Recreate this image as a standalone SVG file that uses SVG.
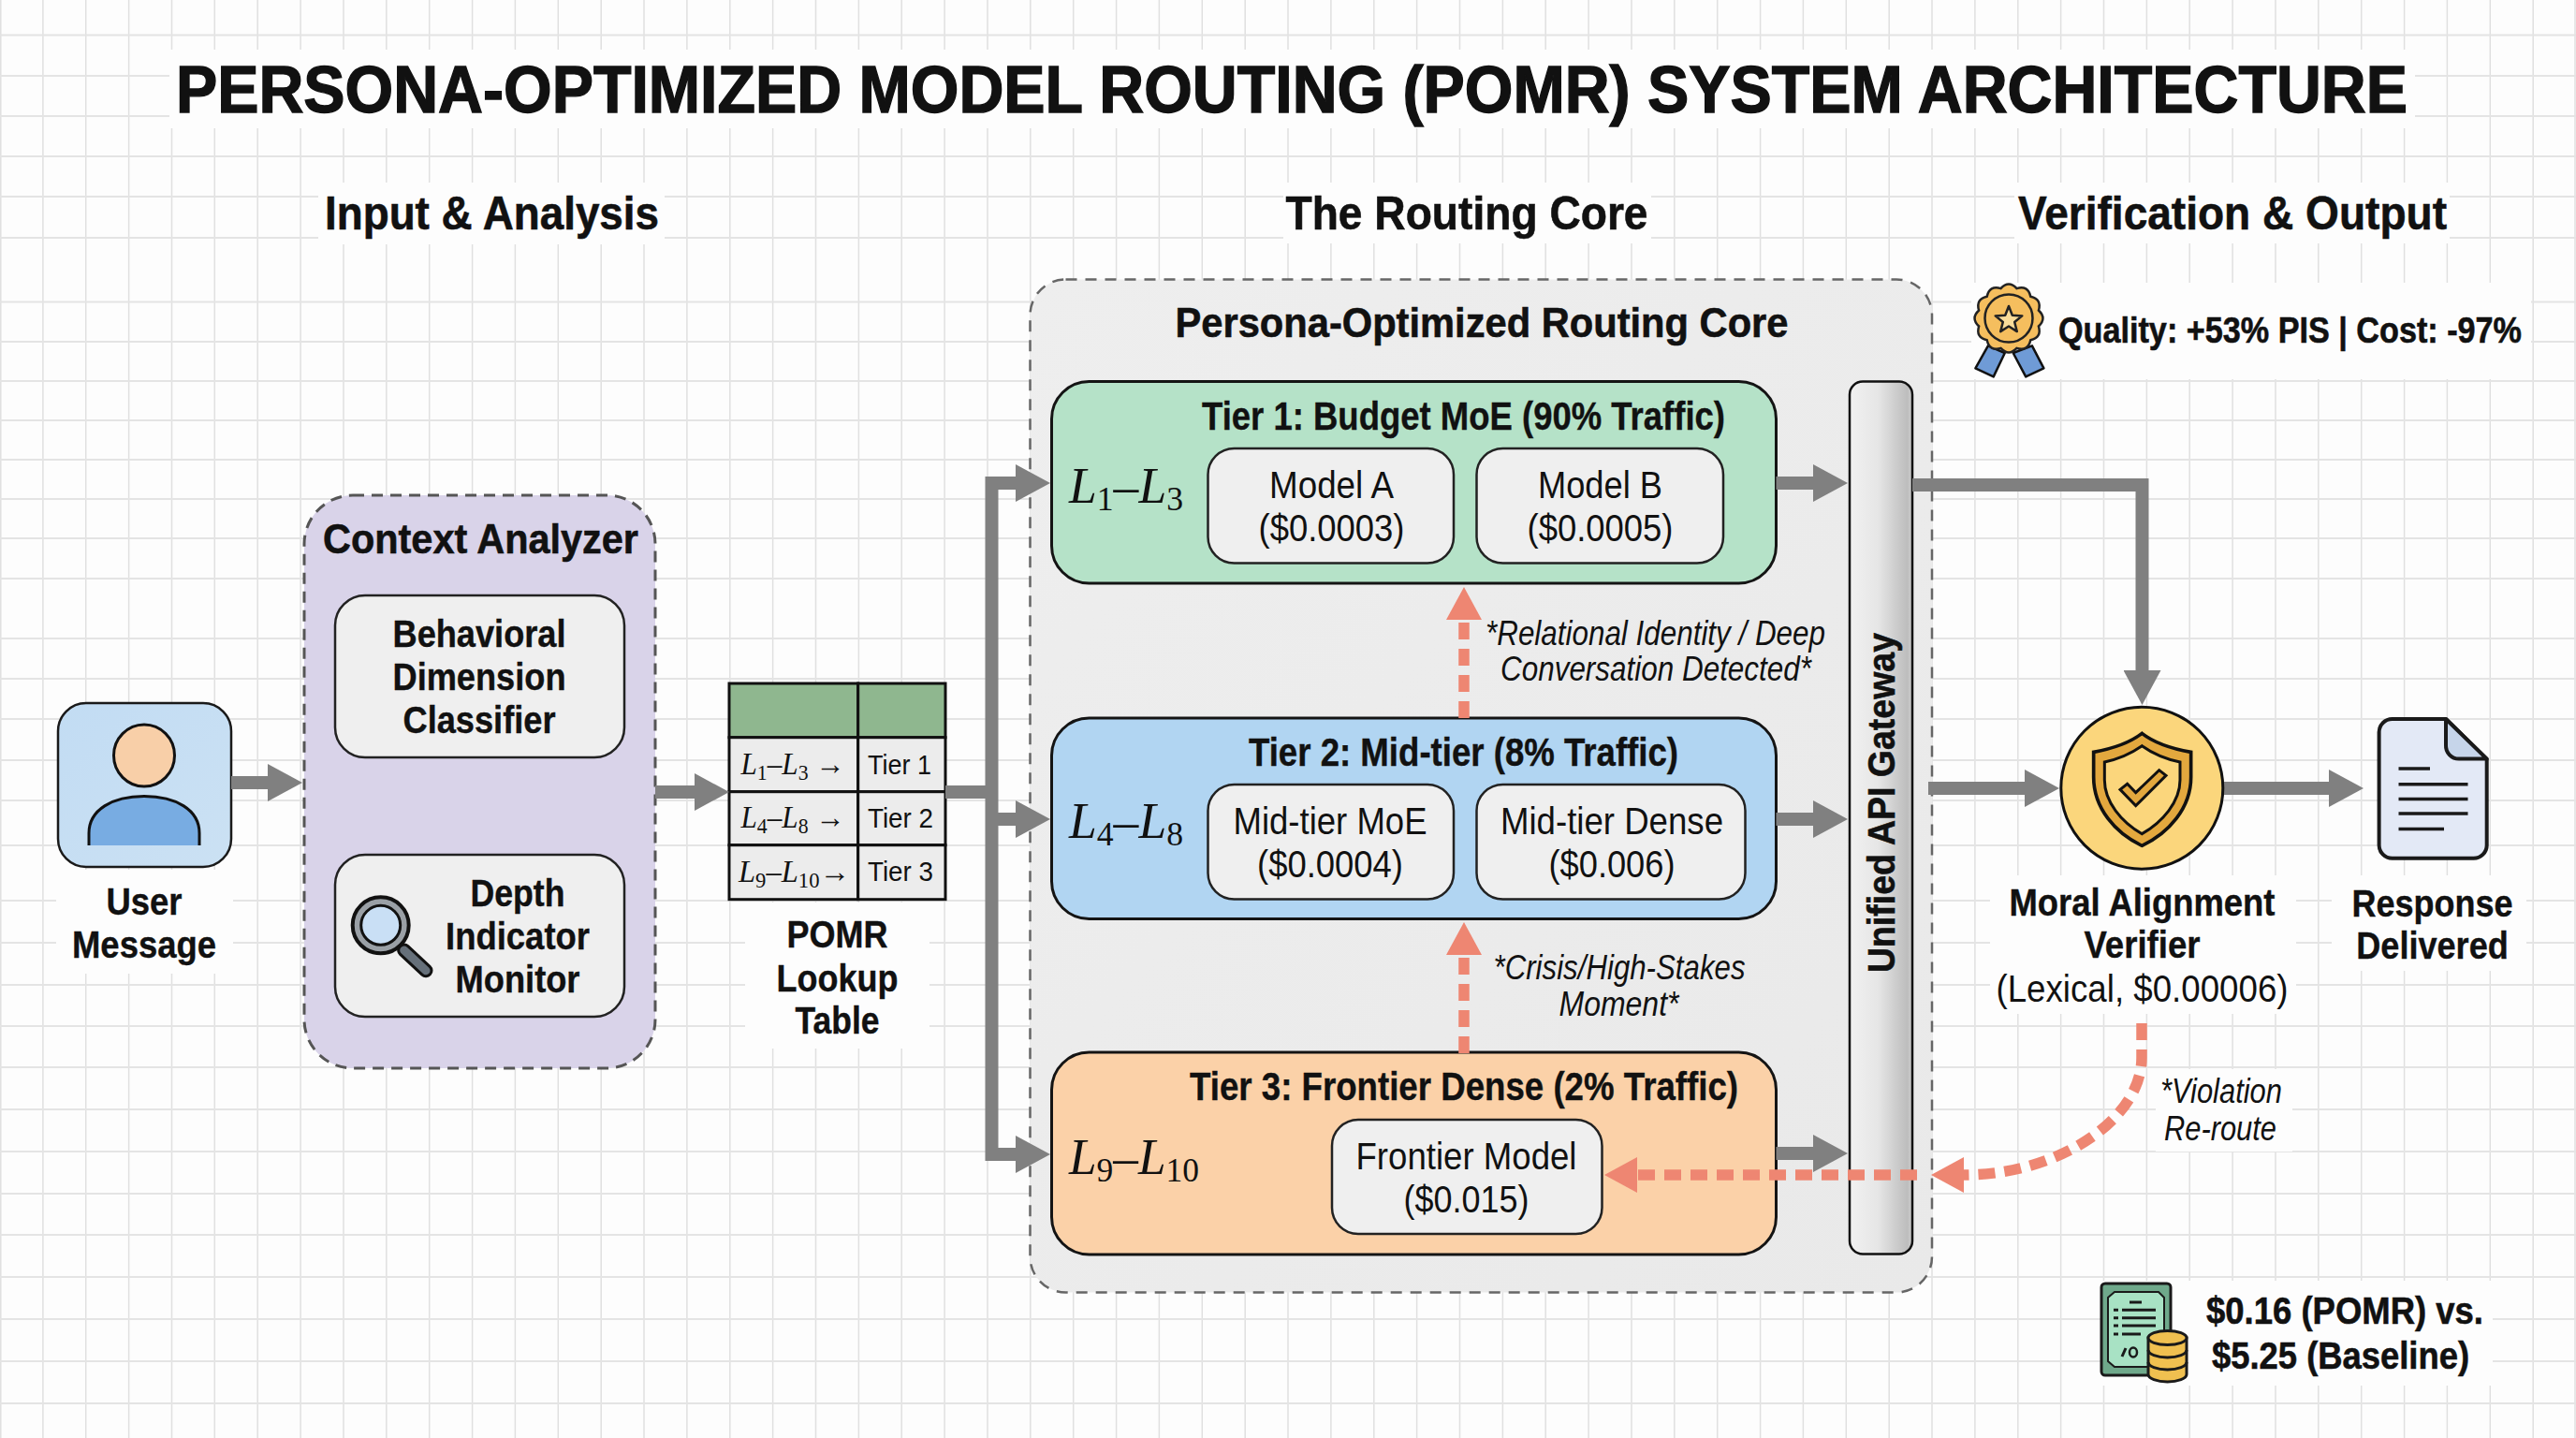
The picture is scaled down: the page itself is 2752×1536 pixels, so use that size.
<svg xmlns="http://www.w3.org/2000/svg" width="2752" height="1536" viewBox="0 0 2752 1536">
<style>
text{fill:#111;font-family:"Liberation Sans",Arial,sans-serif;text-anchor:middle}
.b{font-weight:700;stroke:#111;stroke-width:.6}
.h{font-weight:700;font-size:50px;stroke:#111;stroke-width:.6}
.n{font-weight:700;font-size:41px;stroke:#111;stroke-width:.4}
.t{font-weight:700;font-size:43px;stroke:#111;stroke-width:.4}
.r{font-size:40px}
.i{font-style:italic;font-size:37px}
.c{font-size:30px}
.m{font-family:"Liberation Serif","Times New Roman",serif;text-anchor:start}
.m tspan.l{font-style:italic}
.box{fill:#efefef;stroke:#222;stroke-width:2.5}
.tier{stroke:#141414;stroke-width:3}
.cell{fill:#ececec;stroke:#111;stroke-width:3}
.hd{fill:#8fb78f;stroke:#111;stroke-width:3}
.g{fill:none;stroke:#808080;stroke-width:14}
.d{fill:none;stroke:#ee8672;stroke-width:11.5;stroke-dasharray:18 10}
.halo{fill:#fdfdfd}
.ln{fill:none;stroke:#1a1a1a;stroke-width:3.5}
</style>
<defs>
<marker id="ag" markerUnits="userSpaceOnUse" markerWidth="38" markerHeight="40" refX="0" refY="20" orient="auto"><path d="M0 0L37 20L0 40Z" fill="#808080"/></marker>
<marker id="ar" markerUnits="userSpaceOnUse" markerWidth="36" markerHeight="38" refX="0" refY="19" orient="auto"><path d="M0 0L35 19L0 38Z" fill="#ee8672"/></marker>
<linearGradient id="gUser" x1="0" y1="0" x2="1" y2="1"><stop offset="0" stop-color="#c2dcf3"/><stop offset="1" stop-color="#cbe1f3"/></linearGradient>
<linearGradient id="gGate" x1="0" y1="0" x2="1" y2="0"><stop offset="0" stop-color="#f1f1f1"/><stop offset=".45" stop-color="#e6e6e6"/><stop offset=".92" stop-color="#bdbdbd"/><stop offset="1" stop-color="#cfcfcf"/></linearGradient>
<linearGradient id="gCore" x1="0" y1="0" x2="1" y2="1"><stop offset="0" stop-color="#eeeeee"/><stop offset="1" stop-color="#e9e9e9"/></linearGradient>
</defs>
<g id="background">
<rect width="2752" height="1536" fill="#fdfdfd"/>
<path fill="none" stroke="#e0e0e0" stroke-width="1.5" d="M0.8 0V1536M45.9 0V1536M91.7 0V1536M137.6 0V1536M183.5 0V1536M229.3 0V1536M275.2 0V1536M321.1 0V1536M367 0V1536M412.8 0V1536M458.7 0V1536M504.6 0V1536M550.4 0V1536M596.3 0V1536M642.2 0V1536M688 0V1536M733.9 0V1536M779.8 0V1536M825.6 0V1536M871.5 0V1536M917.4 0V1536M963.2 0V1536M1009.1 0V1536M1055 0V1536M1100.8 0V1536M1146.7 0V1536M1192.6 0V1536M1238.4 0V1536M1284.3 0V1536M1330.2 0V1536M1376 0V1536M1421.9 0V1536M1467.8 0V1536M1513.6 0V1536M1559.5 0V1536M1605.4 0V1536M1651.2 0V1536M1697.1 0V1536M1743 0V1536M1788.8 0V1536M1834.7 0V1536M1880.6 0V1536M1926.4 0V1536M1972.3 0V1536M2018.2 0V1536M2064 0V1536M2109.9 0V1536M2155.8 0V1536M2201.6 0V1536M2247.5 0V1536M2293.4 0V1536M2339.2 0V1536M2385.1 0V1536M2431 0V1536M2476.8 0V1536M2522.7 0V1536M2568.6 0V1536M2614.4 0V1536M2660.3 0V1536M2706.2 0V1536M2751 0V1536"/>
<path fill="none" stroke="#e4e4e4" stroke-width="2" d="M0 37.5H2752M0 81H2752M0 124H2752M0 167H2752M0 210H2752M0 254H2752M0 322.6H2752M0 365H2752M0 407H2752M0 449H2752M0 491H2752M0 533H2752M0 575H2752M0 618H2752M0 682H2752M0 725H2752M0 768H2752M0 812H2752M0 855H2752M0 903H2752M0 962H2752M0 1007H2752M0 1052H2752M0 1096H2752M0 1140H2752M0 1185H2752M0 1230H2752M0 1275H2752M0 1319H2752M0 1364H2752M0 1409H2752M0 1454H2752M0 1499H2752"/>
<rect class="halo" x="181" y="53" width="2399" height="84"/>
<rect class="halo" x="340" y="195" width="370" height="66"/>
<rect class="halo" x="1371" y="195" width="393" height="65"/>
<rect class="halo" x="2152" y="195" width="465" height="65"/>
<rect class="halo" x="2106" y="302" width="598" height="103"/>
<rect class="halo" x="60" y="929" width="189" height="111"/>
<rect class="halo" x="796" y="964" width="197" height="156"/>
<rect class="halo" x="2126" y="935" width="327" height="148"/>
<rect class="halo" x="2491" y="935" width="208" height="102"/>
<rect class="halo" x="2303" y="1142" width="146" height="88"/>
<rect class="halo" x="2244" y="1368" width="419" height="112"/>
</g>
<g id="title"><text class="b" x="1380" y="120" font-size="71" style="stroke-width:1.4" textLength="2384" lengthAdjust="spacingAndGlyphs">PERSONA-OPTIMIZED MODEL ROUTING (POMR) SYSTEM ARCHITECTURE</text></g>
<g id="section-headings">
<text class="h" x="525.5" y="245" textLength="357" lengthAdjust="spacingAndGlyphs">Input &amp; Analysis</text>
<text class="h" x="1567" y="245" textLength="387" lengthAdjust="spacingAndGlyphs">The Routing Core</text>
<text class="h" x="2385" y="245" textLength="458" lengthAdjust="spacingAndGlyphs">Verification &amp; Output</text>
</g>
<g id="user-message">
<rect x="62" y="751" width="185" height="175" rx="30" fill="url(#gUser)" stroke="#1a1a1a" stroke-width="2.5"/>
<path d="M95 903V890C95 865 120 850.5 154 850.5C188 850.5 213 865 213 890V903Z" fill="#78ace2"/>
<path d="M95 903V890C95 865 120 850.5 154 850.5C188 850.5 213 865 213 890V903" fill="none" stroke="#111" stroke-width="3"/>
<ellipse cx="154" cy="807" rx="32.5" ry="33" fill="#f8cfa8" stroke="#111" stroke-width="3"/>
<text class="n" x="154" y="977" textLength="81" lengthAdjust="spacingAndGlyphs">User</text>
<text class="n" x="154" y="1022.5" textLength="154" lengthAdjust="spacingAndGlyphs">Message</text>
</g>
<g id="context-analyzer">
<rect x="325" y="529" width="375" height="612" rx="52" fill="#d9d3e9" stroke="#555" stroke-width="3" stroke-dasharray="12 8"/>
<text class="b" x="513.5" y="590.5" font-size="45" textLength="337" lengthAdjust="spacingAndGlyphs">Context Analyzer</text>
</g>
<g id="behavioral-classifier">
<rect class="box" x="358" y="636" width="309" height="173" rx="32"/>
<text class="n" x="512" y="691" textLength="185" lengthAdjust="spacingAndGlyphs">Behavioral</text>
<text class="n" x="512" y="737" textLength="185" lengthAdjust="spacingAndGlyphs">Dimension</text>
<text class="n" x="512" y="783" textLength="163" lengthAdjust="spacingAndGlyphs">Classifier</text>
</g>
<g id="depth-monitor">
<rect class="box" x="358" y="913" width="309" height="173" rx="32"/>
<path d="M431.7 1015L455 1036.7" stroke="#111" stroke-width="15" stroke-linecap="round" fill="none"/>
<path d="M431.7 1015L455 1036.7" stroke="#66707a" stroke-width="9" stroke-linecap="round" fill="none"/>
<circle cx="406.7" cy="988.3" r="30" fill="#9aa0a6" stroke="#111" stroke-width="4"/>
<circle cx="406.7" cy="988.3" r="21" fill="#c9dff5" stroke="#111" stroke-width="3"/>
<text class="n" x="553" y="967.5" textLength="101" lengthAdjust="spacingAndGlyphs">Depth</text>
<text class="n" x="553" y="1013.5" textLength="154" lengthAdjust="spacingAndGlyphs">Indicator</text>
<text class="n" x="553" y="1059.5" textLength="133" lengthAdjust="spacingAndGlyphs">Monitor</text>
</g>
<g id="lookup-table">
<rect class="hd" x="779" y="730" width="137.7" height="57.7"/>
<rect class="hd" x="916.7" y="730" width="93.3" height="57.7"/>
<rect class="cell" x="779" y="787.7" width="137.7" height="58"/>
<rect class="cell" x="916.7" y="787.7" width="93.3" height="58"/>
<rect class="cell" x="779" y="845.7" width="137.7" height="57"/>
<rect class="cell" x="916.7" y="845.7" width="93.3" height="57"/>
<rect class="cell" x="779" y="902.7" width="137.7" height="58"/>
<rect class="cell" x="916.7" y="902.7" width="93.3" height="58"/>
<text class="m" x="791.5" y="826.7" font-size="33" textLength="111" lengthAdjust="spacingAndGlyphs"><tspan class="l">L</tspan><tspan dy="6" font-size="23">1</tspan><tspan dy="-6">–</tspan><tspan class="l">L</tspan><tspan dy="6" font-size="23">3</tspan><tspan dy="-6"> →</tspan></text>
<text class="m" x="791.5" y="884" font-size="33" textLength="111" lengthAdjust="spacingAndGlyphs"><tspan class="l">L</tspan><tspan dy="6" font-size="23">4</tspan><tspan dy="-6">–</tspan><tspan class="l">L</tspan><tspan dy="6" font-size="23">8</tspan><tspan dy="-6"> →</tspan></text>
<text class="m" x="789" y="941.5" font-size="33" textLength="119" lengthAdjust="spacingAndGlyphs"><tspan class="l">L</tspan><tspan dy="6" font-size="23">9</tspan><tspan dy="-6">–</tspan><tspan class="l">L</tspan><tspan dy="6" font-size="23">10</tspan><tspan dy="-6">→</tspan></text>
<text class="c" x="961" y="826.7" textLength="68" lengthAdjust="spacingAndGlyphs">Tier 1</text>
<text class="c" x="962" y="884" textLength="70" lengthAdjust="spacingAndGlyphs">Tier 2</text>
<text class="c" x="962" y="941" textLength="70" lengthAdjust="spacingAndGlyphs">Tier 3</text>
<text class="n" x="894.5" y="1011.5" textLength="108" lengthAdjust="spacingAndGlyphs">POMR</text>
<text class="n" x="894.5" y="1058.5" textLength="130" lengthAdjust="spacingAndGlyphs">Lookup</text>
<text class="n" x="894.5" y="1104" textLength="90" lengthAdjust="spacingAndGlyphs">Table</text>
</g>
<g id="routing-core">
<rect x="1100.5" y="298.5" width="963.5" height="1082" rx="38" fill="url(#gCore)" stroke="#666" stroke-width="2.5" stroke-dasharray="12 9"/>
<text class="b" x="1583" y="359.5" font-size="45" textLength="655" lengthAdjust="spacingAndGlyphs">Persona-Optimized Routing Core</text>
</g>
<g id="tier-1">
<rect class="tier" x="1123.5" y="407.5" width="774" height="215.5" rx="40" fill="#b5e2c8"/>
<text class="t" x="1563.5" y="458.5" textLength="559" lengthAdjust="spacingAndGlyphs">Tier 1: Budget MoE (90% Traffic)</text>
<text class="m" x="1142" y="537" font-size="54" textLength="122" lengthAdjust="spacingAndGlyphs"><tspan class="l">L</tspan><tspan dy="8" font-size="36">1</tspan><tspan dy="-8">–</tspan><tspan class="l">L</tspan><tspan dy="8" font-size="36">3</tspan></text>
</g>
<g id="model-a">
<rect class="box" x="1290.5" y="479" width="262.5" height="122.5" rx="28"/>
<text class="r" x="1422.5" y="531.5" textLength="133" lengthAdjust="spacingAndGlyphs">Model A</text>
<text class="r" x="1422.5" y="577.5" textLength="156" lengthAdjust="spacingAndGlyphs">($0.0003)</text>
</g>
<g id="model-b">
<rect class="box" x="1577.5" y="479" width="263.5" height="122.5" rx="28"/>
<text class="r" x="1709.5" y="531.5" textLength="133" lengthAdjust="spacingAndGlyphs">Model B</text>
<text class="r" x="1709.5" y="577.5" textLength="156" lengthAdjust="spacingAndGlyphs">($0.0005)</text>
</g>
<g id="tier-2">
<rect class="tier" x="1123.5" y="767" width="774" height="214.5" rx="40" fill="#b1d5f2"/>
<text class="t" x="1563.5" y="817.5" textLength="459" lengthAdjust="spacingAndGlyphs">Tier 2: Mid-tier (8% Traffic)</text>
<text class="m" x="1142" y="895" font-size="54" textLength="122" lengthAdjust="spacingAndGlyphs"><tspan class="l">L</tspan><tspan dy="8" font-size="36">4</tspan><tspan dy="-8">–</tspan><tspan class="l">L</tspan><tspan dy="8" font-size="36">8</tspan></text>
</g>
<g id="mid-tier-moe">
<rect class="box" x="1290.5" y="838" width="262.5" height="122.5" rx="28"/>
<text class="r" x="1421" y="891" textLength="207" lengthAdjust="spacingAndGlyphs">Mid-tier MoE</text>
<text class="r" x="1421" y="937" textLength="156" lengthAdjust="spacingAndGlyphs">($0.0004)</text>
</g>
<g id="mid-tier-dense">
<rect class="box" x="1577.5" y="838" width="287" height="122.5" rx="28"/>
<text class="r" x="1722" y="891" textLength="238" lengthAdjust="spacingAndGlyphs">Mid-tier Dense</text>
<text class="r" x="1722" y="937" textLength="135" lengthAdjust="spacingAndGlyphs">($0.006)</text>
</g>
<g id="tier-3">
<rect class="tier" x="1123.5" y="1124" width="774" height="216" rx="40" fill="#fbd1a8"/>
<text class="t" x="1564" y="1175" textLength="586" lengthAdjust="spacingAndGlyphs">Tier 3: Frontier Dense (2% Traffic)</text>
<text class="m" x="1142" y="1254" font-size="54" textLength="139" lengthAdjust="spacingAndGlyphs"><tspan class="l">L</tspan><tspan dy="8" font-size="36">9</tspan><tspan dy="-8">–</tspan><tspan class="l">L</tspan><tspan dy="8" font-size="36">10</tspan></text>
</g>
<g id="frontier-model">
<rect class="box" x="1423" y="1196" width="288.5" height="122" rx="28"/>
<text class="r" x="1566.5" y="1248.5" textLength="236" lengthAdjust="spacingAndGlyphs">Frontier Model</text>
<text class="r" x="1566.5" y="1294.5" textLength="134" lengthAdjust="spacingAndGlyphs">($0.015)</text>
</g>
<g id="api-gateway">
<rect x="1976" y="407.5" width="67" height="932" rx="14" fill="url(#gGate)" stroke="#111" stroke-width="2.5"/>
<text class="b" transform="translate(2024 857.5) rotate(-90)" x="0" y="0" font-size="41" textLength="363" lengthAdjust="spacingAndGlyphs">Unified API Gateway</text>
</g>
<g id="connectors">
<path class="g" d="M247 836H286" marker-end="url(#ag)"/>
<path class="g" d="M700 846H742" marker-end="url(#ag)"/>
<path class="g" d="M1010 846H1059.5"/>
<path class="g" d="M1059.5 846V516H1085" marker-end="url(#ag)"/>
<path class="g" d="M1059.5 846V1233H1085" marker-end="url(#ag)"/>
<path class="g" d="M1059.5 875H1085" marker-end="url(#ag)"/>
<path class="g" d="M1897.5 516H1937" marker-end="url(#ag)"/>
<path class="g" d="M1897.5 875H1937" marker-end="url(#ag)"/>
<path class="g" d="M1897.5 1232H1937" marker-end="url(#ag)"/>
<path class="g" d="M2043 518H2288.5V716" marker-end="url(#ag)"/>
<path class="g" d="M2060 842H2163" marker-end="url(#ag)"/>
<path class="g" d="M2376 842H2488" marker-end="url(#ag)"/>
<path class="d" d="M1564 767V662" marker-end="url(#ar)"/>
<path class="d" d="M1564 1125V1020" marker-end="url(#ar)"/>
<path class="d" d="M2048 1255H1749" marker-end="url(#ar)"/>
<path class="d" d="M2288 1093V1130C2288 1195 2200 1255 2098 1255" marker-end="url(#ar)"/>
</g>
<g id="edge-labels">
<text class="i" x="1768.5" y="688.5" textLength="363" lengthAdjust="spacingAndGlyphs">*Relational Identity / Deep</text>
<text class="i" x="1769" y="727" textLength="332" lengthAdjust="spacingAndGlyphs">Conversation Detected*</text>
<text class="i" x="1730" y="1046" textLength="269" lengthAdjust="spacingAndGlyphs">*Crisis/High-Stakes</text>
<text class="i" x="1729.5" y="1085" textLength="128" lengthAdjust="spacingAndGlyphs">Moment*</text>
<text class="i" x="2373" y="1178" textLength="130" lengthAdjust="spacingAndGlyphs">*Violation</text>
<text class="i" x="2372" y="1217.5" textLength="120" lengthAdjust="spacingAndGlyphs">Re-route</text>
</g>
<g id="verifier">
<circle cx="2288.3" cy="841.7" r="86.5" fill="#fbd67c" stroke="#111" stroke-width="3"/>
<g transform="translate(2190 740) scale(.3333)">
<path d="M295 130C250 165 195 180 140 190V270C140 370 210 450 295 490C380 450 452 370 452 270V190C395 180 340 165 295 130Z" fill="#e3a83e" stroke="#111" stroke-width="11"/>
<path d="M295 170C260 195 220 212 175 222V280C175 350 230 415 295 452C360 415 417 350 417 280V222C370 212 330 195 295 170Z" fill="#fbd67c" stroke="#111" stroke-width="9"/>
<path d="M225 310L248 292L275 320L350 248L372 265L275 362Z" fill="#e3a83e" stroke="#111" stroke-width="9"/>
</g>
<text class="n" x="2288.5" y="978" font-size="38" textLength="284" lengthAdjust="spacingAndGlyphs">Moral Alignment</text>
<text class="n" x="2288.5" y="1023" font-size="38" textLength="124" lengthAdjust="spacingAndGlyphs">Verifier</text>
<text class="r" x="2288.5" y="1069.5" textLength="312" lengthAdjust="spacingAndGlyphs">(Lexical, $0.00006)</text>
</g>
<g id="response">
<path d="M2556 768H2613L2656.7 810.6V902.7A14 14 0 0 1 2642.7 916.7H2555.6A14 14 0 0 1 2541.6 902.7V782A14 14 0 0 1 2556 768Z" fill="#e3e9f6" stroke="#1a1a1a" stroke-width="4" stroke-linejoin="round"/>
<path d="M2613 768V796A14 14 0 0 0 2627 810.6H2656.7Z" fill="#c6d5ea" stroke="#1a1a1a" stroke-width="4" stroke-linejoin="round"/>
<path class="ln" d="M2562.5 821H2596M2562.5 837.7H2636.5M2562.5 853.5H2636.5M2562.5 869H2636.5M2562.5 885.6H2611"/>
<text class="n" x="2598.5" y="978.5" textLength="172" lengthAdjust="spacingAndGlyphs">Response</text>
<text class="n" x="2598.5" y="1023.5" textLength="162.5" lengthAdjust="spacingAndGlyphs">Delivered</text>
</g>
<g id="quality-badge">
<path d="M2123.9 369.3L2110.4 393.3L2129.7 402.4L2141.8 377Z" fill="#6f9bd6" stroke="#111" stroke-width="2.5" stroke-linejoin="round"/>
<path d="M2150.7 377L2164.2 402.4L2183.4 393.3L2170.9 369.3Z" fill="#6f9bd6" stroke="#111" stroke-width="2.5" stroke-linejoin="round"/>
<g transform="translate(2146 340)"><path d="M31.9 -8.5Q41 0 31.9 8.5Q35.5 20.5 23.3 23.3Q20.5 35.5 8.5 31.9Q0 41 -8.5 31.9Q-20.5 35.5 -23.3 23.3Q-35.5 20.5 -31.9 8.5Q-41 0 -31.9 -8.5Q-35.5 -20.5 -23.3 -23.3Q-20.5 -35.5 -8.5 -31.9Q0 -41 8.5 -31.9Q20.5 -35.5 23.3 -23.3Q35.5 -20.5 31.9 -8.5Z" fill="#f5be5e" stroke="#222" stroke-width="2.5"/>
<circle r="25.5" fill="#f5be5e" stroke="#222" stroke-width="2.5"/></g>
<path d="M2146 327L2149.8 336.7L2160.3 337.4L2152.2 344L2154.8 354.1L2146 348.5L2137.2 354.1L2139.8 344L2131.7 337.4L2142.2 336.7Z" fill="#f9dc9a" stroke="#222" stroke-width="2.5" stroke-linejoin="round"/>
<text class="b" x="2446.5" y="365.5" font-size="38" textLength="495" lengthAdjust="spacingAndGlyphs">Quality: +53% PIS | Cost: -97%</text>
</g>
<g id="cost-summary">
<rect x="2245" y="1371" width="74" height="98" rx="4" fill="#6fa98b" stroke="#1a1a1a" stroke-width="3"/>
<path d="M2259 1380H2306L2312 1386V1454L2306 1460H2259L2252 1454V1386Z" fill="#a8e2c4" stroke="#1a1a1a" stroke-width="2"/>
<path d="M2275 1391H2288M2267 1399.3H2303M2267 1407.7H2303M2267 1416H2303M2267 1425H2287M2258 1399.3H2263M2258 1407.7H2263M2258 1416H2263M2258 1425H2263M2267 1449L2271 1440" fill="none" stroke="#1a1a1a" stroke-width="3"/>
<ellipse cx="2279" cy="1444.5" rx="4" ry="5" fill="none" stroke="#1a1a1a" stroke-width="2.5"/>
<path d="M2295 1429V1468A20.5 8 0 0 0 2336 1468V1429Z" fill="#f0c050" stroke="#1a1a1a" stroke-width="3"/>
<path d="M2295 1442A20.5 8 0 0 0 2336 1442M2295 1455A20.5 8 0 0 0 2336 1455" fill="none" stroke="#1a1a1a" stroke-width="3"/>
<ellipse cx="2315.5" cy="1429" rx="20.5" ry="7.5" fill="#f0c050" stroke="#1a1a1a" stroke-width="3"/>
<text class="b" x="2505" y="1414" font-size="41" textLength="296" lengthAdjust="spacingAndGlyphs">$0.16 (POMR) vs.</text>
<text class="b" x="2500.5" y="1461.5" font-size="41" textLength="275" lengthAdjust="spacingAndGlyphs">$5.25 (Baseline)</text>
</g>
</svg>
